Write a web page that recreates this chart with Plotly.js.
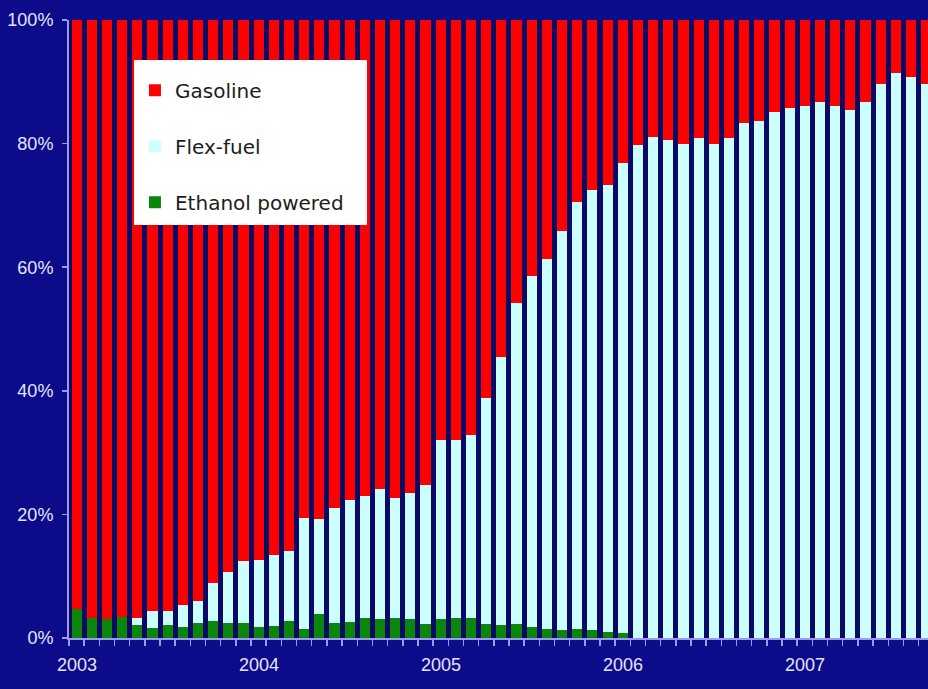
<!DOCTYPE html>
<html>
<head>
<meta charset="utf-8">
<script src="https://cdn.plot.ly/plotly-3.0.1.min.js"></script>
<style>
  html, body { margin: 0; padding: 0; background: #0c0c8a; }
  #chart { width: 928px; height: 689px; }
</style>
</head>
<body>
<div id="chart"></div>
<script>
// Monthly new light-vehicle sales share by fuel type, Jan 2003 - Sep 2007
const months = [
  '2003-01','2003-02','2003-03','2003-04','2003-05','2003-06','2003-07','2003-08','2003-09','2003-10','2003-11','2003-12',
  '2004-01','2004-02','2004-03','2004-04','2004-05','2004-06','2004-07','2004-08','2004-09','2004-10','2004-11','2004-12',
  '2005-01','2005-02','2005-03','2005-04','2005-05','2005-06','2005-07','2005-08','2005-09','2005-10','2005-11','2005-12',
  '2006-01','2006-02','2006-03','2006-04','2006-05','2006-06','2006-07','2006-08','2006-09','2006-10','2006-11','2006-12',
  '2007-01','2007-02','2007-03','2007-04','2007-05','2007-06','2007-07','2007-08','2007-09'
];

// Share of sales, percent
const ethanolPowered = [
  4.7, 3.2, 3.0, 3.4, 2.1, 1.6, 2.1, 1.7, 2.5, 2.7, 2.5, 2.5,
  1.7, 2.0, 2.7, 1.5, 3.9, 2.5, 2.6, 3.2, 3.0, 3.3, 3.0, 2.2,
  3.0, 3.2, 3.3, 2.2, 2.1, 2.2, 1.7, 1.4, 1.3, 1.4, 1.3, 1.0,
  0.8, 0, 0, 0, 0, 0, 0, 0, 0, 0, 0, 0,
  0, 0, 0, 0, 0, 0, 0, 0, 0
];
const flexFuel = [
  0, 0, 0, 0, 1.2, 2.8, 2.3, 3.7, 3.5, 6.2, 8.2, 9.9,
  11.0, 11.5, 11.3, 17.9, 15.3, 18.6, 19.7, 19.7, 21.1, 19.3, 20.4, 22.6,
  29.0, 28.8, 29.5, 36.6, 43.3, 52.0, 56.9, 59.9, 64.5, 69.2, 71.2, 72.3,
  76.1, 79.8, 81.0, 80.6, 79.9, 80.9, 79.9, 80.9, 83.4, 83.6, 85.1, 85.8,
  86.1, 86.7, 86.1, 85.4, 86.8, 89.6, 91.4, 90.8, 89.6
];
const gasoline = [
  95.3, 96.8, 97.0, 96.6, 96.7, 95.6, 95.6, 94.6, 94.0, 91.1, 89.3, 87.6,
  87.3, 86.5, 86.0, 80.6, 80.8, 78.9, 77.7, 77.1, 75.9, 77.4, 76.6, 75.2,
  68.0, 68.0, 67.2, 61.2, 54.6, 45.8, 41.4, 38.7, 34.2, 29.4, 27.5, 26.7,
  23.1, 20.2, 19.0, 19.4, 20.1, 19.1, 20.1, 19.1, 16.6, 16.4, 14.9, 14.2,
  13.9, 13.3, 13.9, 14.6, 13.2, 10.4, 8.6, 9.2, 10.4
];

const yTickValues = [0, 20, 40, 60, 80, 100];
const yTickLabels = ['0%', '20%', '40%', '60%', '80%', '100%'];

// One slot per month; January slots carry the year label
const xIdx = months.map((_, i) => i);
const yearIdx = xIdx.filter(i => months[i].endsWith('-01'));
const yearText = yearIdx.map(i => months[i].slice(0, 4));
const monthEdges = months.concat(['']).map((_, i) => i - 0.5);

const axisLine = '#9a9aee';
const labelFont = { family: 'Liberation Sans, Arial, sans-serif', size: 18, color: '#e4e4ff' };

function barTrace(name, values, color, rank) {
  return {
    type: 'bar',
    name: name,
    legendgroup: name,
    legendrank: rank,
    x: xIdx,
    y: values,
    customdata: months,
    hovertemplate: '%{customdata}: %{y:.1f}%<extra>' + name + '</extra>',
    marker: { color: color, line: { width: 0 } }
  };
}

// stacked bottom to top; legend lists top to bottom
const traces = [
  barTrace('Ethanol powered', ethanolPowered, '#0a860a', 3),
  barTrace('Flex-fuel', flexFuel, '#ccffff', 2),
  barTrace('Gasoline', gasoline, '#ff0000', 1)
];

const yearLabels = yearIdx.map((xi, k) => ({
  x: xi, xref: 'x',
  y: -0.0437, yref: 'paper',
  yanchor: 'middle', xanchor: 'center',
  text: yearText[k],
  showarrow: false,
  font: labelFont
}));

const layout = {
  width: 928,
  height: 689,
  margin: { l: 69, r: 0, t: 20, b: 51 },
  paper_bgcolor: '#0c0c8a',
  plot_bgcolor: '#0a0a66',
  barmode: 'stack',
  bargap: 0.33,
  showlegend: true,
  legend: {
    x: 0.0768, xanchor: 'left',
    y: 0.918, yanchor: 'top',
    bgcolor: 'rgba(0,0,0,0)',
    borderwidth: 0,
    traceorder: 'grouped',
    tracegroupgap: 27,
    font: { family: 'DejaVu Sans, Verdana, sans-serif', size: 20, color: '#1c1c1c' }
  },
  shapes: [{
    type: 'rect', xref: 'paper', yref: 'paper', layer: 'above',
    x0: 0.0757, x1: 0.3469, y0: 0.6683, y1: 0.9353,
    fillcolor: '#ffffff', line: { width: 0 }
  }],
  annotations: yearLabels,
  // month boundary ticks
  xaxis: {
    range: [-0.5, 56.12],
    showgrid: false,
    zeroline: false,
    showline: true,
    linecolor: axisLine,
    linewidth: 2,
    tickmode: 'array',
    tickvals: monthEdges,
    showticklabels: false,
    ticks: 'outside',
    ticklen: 6,
    tickwidth: 1.5,
    tickcolor: axisLine,
    fixedrange: true
  },
  yaxis: {
    range: [0, 100],
    showgrid: false,
    zeroline: false,
    showline: true,
    linecolor: axisLine,
    linewidth: 2,
    tickmode: 'array',
    tickvals: yTickValues,
    ticktext: yTickLabels,
    ticks: 'outside',
    ticklen: 5,
    tickwidth: 1.5,
    tickcolor: axisLine,
    ticklabelstandoff: 5,
    tickfont: labelFont,
    fixedrange: true
  }
};

Plotly.newPlot('chart', traces, layout, { displayModeBar: false, staticPlot: true });
</script>
</body>
</html>
